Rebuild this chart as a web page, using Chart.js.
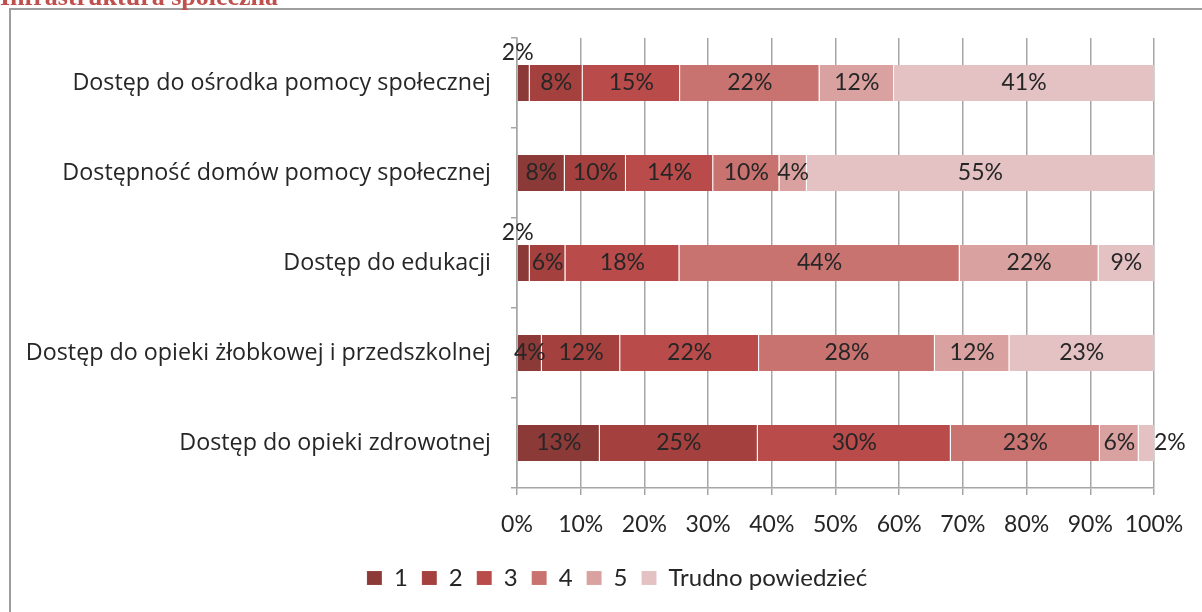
<!DOCTYPE html>
<html>
<head>
<meta charset="utf-8">
<script src="https://cdn.jsdelivr.net/npm/chart.js@4.4.1/dist/chart.umd.min.js"></script>
<style>
html,body{margin:0;padding:0;background:#fff;}
#wrap{position:relative;width:1202px;height:612px;}
</style>
</head>
<body>
<div id="wrap"><canvas id="c" width="1202" height="612"></canvas></div>
<script>
const chartTitle = 'Infrastruktura społeczna';
const categories = [
  'Dostęp do ośrodka pomocy społecznej',
  'Dostępność domów pomocy społecznej',
  'Dostęp do edukacji',
  'Dostęp do opieki żłobkowej i przedszkolnej',
  'Dostęp do opieki zdrowotnej'
];
const seriesNames = ['1', '2', '3', '4', '5', 'Trudno powiedzieć'];
const s1 = [2.0, 7.5, 2.0, 3.9, 13.0];
const s2 = [8.3, 9.6, 5.6, 12.3, 24.8];
const s3 = [15.3, 13.7, 17.9, 21.8, 30.3];
const s4 = [21.9, 10.4, 44.0, 27.6, 23.4];
const s5 = [11.7, 4.3, 21.8, 11.7, 6.1];
const s6 = [40.8, 54.5, 8.7, 22.7, 2.4];
const xTicks = [0, 10, 20, 30, 40, 50, 60, 70, 80, 90, 100];

const colors = ['#8C3A37', '#A4403E', '#B94B4A', '#C97371', '#D9A19F', '#E4C1C3'];
const seriesValues = [s1, s2, s3, s4, s5, s6];

const numFont = 'Lato, "Liberation Sans", sans-serif';
const catFont = '"Open Sans", "DejaVu Sans", sans-serif';
const textColor = '#262626';
const gridColor = '#A6A6A6';

const framePlugin = {
  id: 'frame',
  afterLayout(chart) {
    if (chart.legend) { chart.legend.left += 80; }
  },
  beforeDraw(chart) {
    const ctx = chart.ctx;
    ctx.save();
    ctx.strokeStyle = '#9E9E9E';
    ctx.lineWidth = 2;
    ctx.beginPath();
    ctx.moveTo(1210, 9);
    ctx.lineTo(10, 9);
    ctx.lineTo(10, 620);
    ctx.stroke();
    ctx.fillStyle = '#C0504D';
    ctx.font = 'bold 26px "Liberation Serif", serif';
    ctx.textBaseline = 'alphabetic';
    ctx.textAlign = 'left';
    ctx.fillText(chartTitle, 0, 5);
    ctx.restore();
  }
};

const labelPlugin = {
  id: 'barLabels',
  afterDatasetsDraw(chart) {
    const ctx = chart.ctx;
    ctx.save();
    ctx.font = '23px ' + numFont;
    ctx.fillStyle = textColor;
    ctx.textBaseline = 'middle';
    const last = chart.data.datasets.length - 1;
    chart.data.datasets.forEach((ds, di) => {
      const meta = chart.getDatasetMeta(di);
      meta.data.forEach((bar, i) => {
        const v = ds.data[i];
        const txt = Math.round(v) + '%';
        const left = Math.min(bar.base, bar.x);
        const right = Math.max(bar.base, bar.x);
        const w = right - left;
        let x = (left + right) / 2, y = bar.y;
        ctx.textAlign = 'center';
        if (w < 18) {
          if (di === last) {
            ctx.textAlign = 'left';
            x = right;
          } else {
            x = left;
            y = bar.y - 30;
          }
        }
        ctx.fillText(txt, x, y);
      });
    });
    ctx.restore();
  }
};

new Chart(document.getElementById('c'), {
  type: 'bar',
  data: {
    labels: categories,
    datasets: seriesNames.map((name, k) => ({
      label: name,
      data: seriesValues[k],
      backgroundColor: colors[k],
      borderColor: 'rgba(255,255,255,0.45)',
      borderWidth: {left: 0, top: 0, bottom: 0, right: 1},
      borderSkipped: false,
      barPercentage: 0.4,
      categoryPercentage: 1.0
    }))
  },
  options: {
    indexAxis: 'y',
    responsive: false,
    animation: false,
    devicePixelRatio: 1,
    layout: { padding: { top: 38, left: 0, right: 48, bottom: 12 } },
    scales: {
      x: {
        stacked: true,
        min: 0,
        max: 100,
        afterBuildTicks(scale) { scale.ticks = xTicks.map(v => ({ value: v })); },
        afterFit(scale) { scale.height = 64; },
        ticks: {
          callback: v => v + '%',
          color: textColor,
          font: { family: numFont, size: 23 },
          padding: 16,
          maxRotation: 0
        },
        grid: { color: gridColor, lineWidth: 1.5, tickLength: 7, drawTicks: true },
        border: { color: gridColor, width: 1.5 }
      },
      y: {
        stacked: true,
        afterFit(scale) { scale.width = 517; },
        ticks: {
          color: textColor,
          font: { family: catFont, size: 23.3 },
          padding: 20
        },
        grid: { offset: true, drawOnChartArea: false, drawTicks: true, tickLength: 6, color: gridColor, lineWidth: 1.5 },
        border: { color: gridColor, width: 1.5 }
      }
    },
    plugins: {
      legend: {
        position: 'bottom',
        labels: {
          boxWidth: 15,
          boxHeight: 14,
          padding: 14,
          color: textColor,
          font: { family: numFont, size: 24 }
        }
      },
      tooltip: { enabled: false },
      title: { display: false }
    }
  },
  plugins: [framePlugin, labelPlugin]
});
</script>
</body>
</html>
